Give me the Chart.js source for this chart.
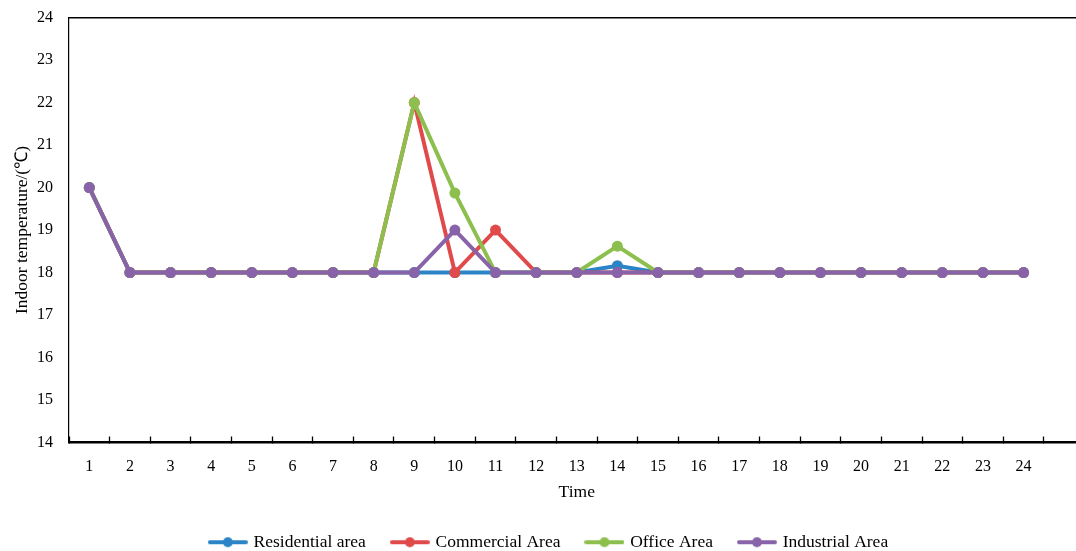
<!DOCTYPE html>
<html>
<head>
<meta charset="utf-8">
<script src="https://cdn.jsdelivr.net/npm/chart.js@4.4.0/dist/chart.umd.min.js"></script>
<style>
  html, body { margin: 0; padding: 0; background: #fff; overflow: hidden; }
  #wrap { position: relative; width: 1090px; height: 551px; }
</style>
</head>
<body>
<div id="wrap"><canvas id="chart"></canvas></div>
<script>
// hours 1..24, the 25th slot is left empty like the original sheet
const hours = ['1','2','3','4','5','6','7','8','9','10','11','12','13','14','15','16','17','18','19','20','21','22','23','24',''];
const seriesNames = ['Residential area', 'Commercial Area', 'Office Area', 'Industrial Area'];
const residential = [20,18,18,18,18,18,18,18,18,18,18,18,18,18.16,18,18,18,18,18,18,18,18,18,18];
const commercial  = [20,18,18,18,18,18,18,18,22,18,19,18,18,18,18,18,18,18,18,18,18,18,18,18];
const office      = [20,18,18,18,18,18,18,18,22,19.87,18,18,18,18.62,18,18,18,18,18,18,18,18,18,18];
const industrial  = [20,18,18,18,18,18,18,18,18,19,18,18,18,18,18,18,18,18,18,18,18,18,18,18];
const yTicks = [14, 24, 1]; // min, max, step
const colors = ['#2b84c6', '#e04a4a', '#8cbf4e', '#8863a9'];

const serif = '"Liberation Serif", "Times New Roman", serif';

// little line-with-dot swatches for the legend
function makeMarker(color) {
  const c = document.createElement('canvas');
  c.width = 40; c.height = 12;
  const g = c.getContext('2d');
  g.strokeStyle = color;
  g.lineWidth = 4;
  g.lineCap = 'round';
  g.beginPath(); g.moveTo(2, 6); g.lineTo(38, 6); g.stroke();
  g.fillStyle = color;
  g.beginPath(); g.arc(20, 6, 5, 0, Math.PI * 2); g.fill();
  return c;
}
const markers = colors.map(makeMarker);

const allSeries = [residential, commercial, office, industrial];
const datasets = allSeries.map((vals, i) => ({
  label: seriesNames[i],
  data: vals,
  borderColor: colors[i],
  backgroundColor: colors[i],
  borderWidth: 4,
  pointRadius: 5.5,
  pointBorderWidth: 0,
  pointBackgroundColor: colors[i],
  tension: 0,
  order: allSeries.length - i   // later series on top
}));

new Chart(document.getElementById('chart'), {
  type: 'line',
  data: { labels: hours, datasets },
  options: {
    responsive: true,
    maintainAspectRatio: false,
    animation: false,
    layout: { padding: { top: 9, right: 5, left: 14, bottom: -10 } },
    plugins: {
      tooltip: { enabled: false },
      legend: {
        position: 'bottom',
        labels: {
          usePointStyle: true,
          pointStyleWidth: 34,
          padding: 27,
          color: '#000',
          font: { family: serif, size: 17.5 },
          sort: (a, b) => a.datasetIndex - b.datasetIndex,
          generateLabels: (chart) => {
            const items = Chart.defaults.plugins.legend.labels.generateLabels(chart);
            items.forEach(it => { it.pointStyle = markers[it.datasetIndex]; });
            return items;
          }
        }
      }
    },
    scales: {
      x: {
        type: 'category',
        offset: true,
        grid: {
          offset: true,
          drawOnChartArea: false,
          drawTicks: true,
          tickLength: -6,
          color: '#000',
          tickColor: '#000',
          tickWidth: 1.3
        },
        border: { display: true, color: '#000', width: 2.5 },
        ticks: {
          autoSkip: false,
          maxRotation: 0,
          padding: 21,
          color: '#000',
          font: { family: serif, size: 16 }
        },
        title: {
          display: true,
          text: 'Time',
          color: '#000',
          font: { family: serif, size: 17.5, lineHeight: 1.1 }
        },
        afterFit: (s) => { s.height = 64; }
      },
      xTop: {
        type: 'category',
        position: 'top',
        labels: hours,
        offset: true,
        ticks: { display: false },
        grid: { display: false, drawTicks: false },
        border: { display: true, color: '#000', width: 1.5 }
      },
      y: {
        min: yTicks[0],
        max: yTicks[1],
        grid: { display: false },
        border: { display: true, color: '#000', width: 1.2 },
        ticks: {
          stepSize: yTicks[2],
          padding: 8,
          color: '#000',
          font: { family: serif, size: 16 }
        },
        title: {
          display: true,
          text: 'Indoor temperature/(℃)',
          color: '#000',
          font: { family: serif, size: 17.5, lineHeight: 0.5 }
        },
        afterFit: (s) => { s.width = 55; }
      }
    }
  }
});
</script>
</body>
</html>
